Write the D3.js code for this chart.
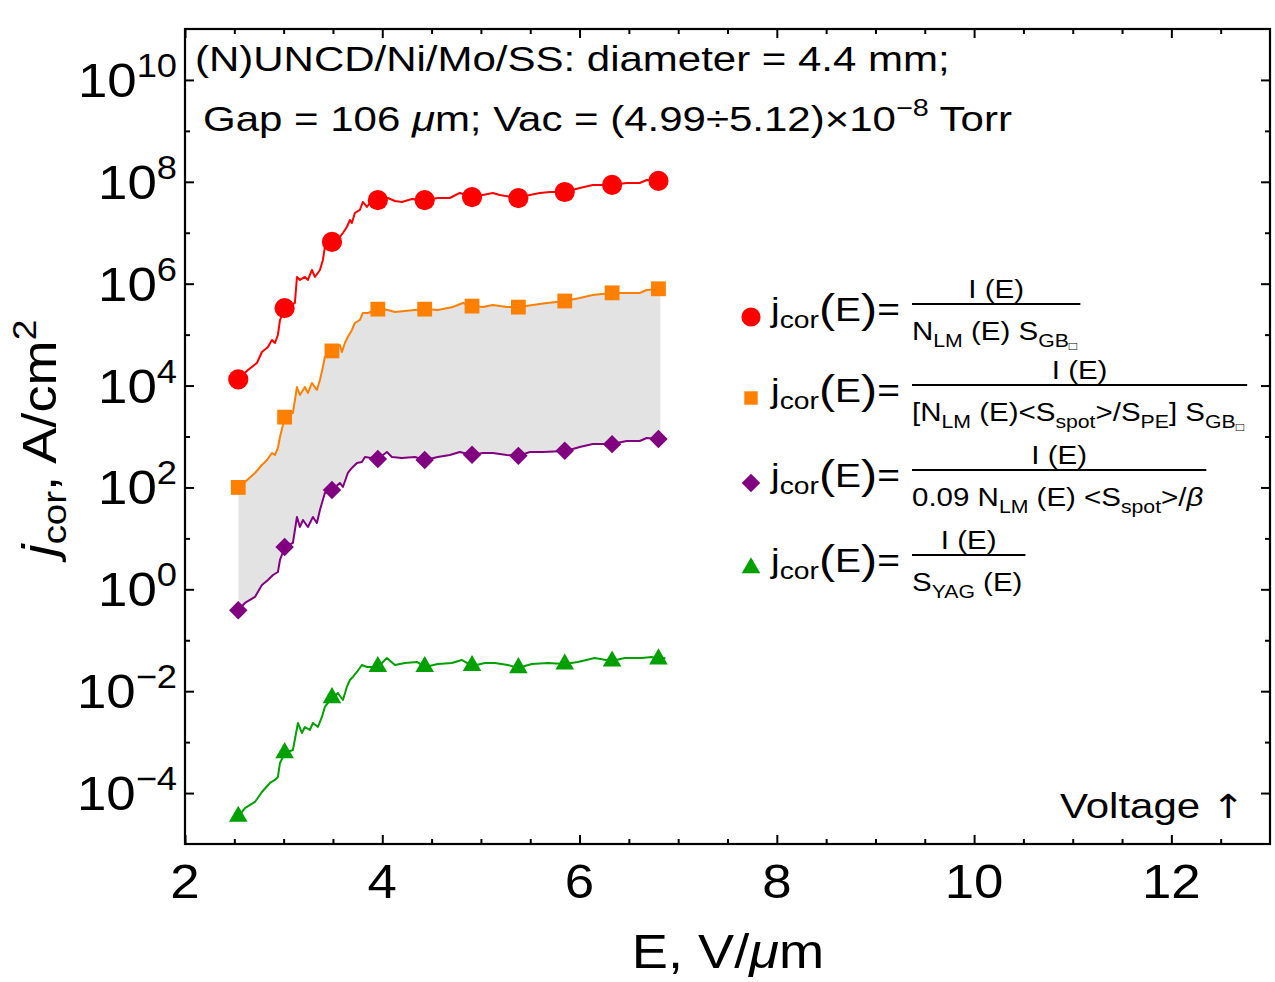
<!DOCTYPE html>
<html><head><meta charset="utf-8">
<script src="https://cdn.jsdelivr.net/npm/d3@7"></script>
<style>
body{margin:0;background:#fff}
svg text{font-family:"Liberation Sans",Arial,Helvetica,sans-serif;fill:#000}
</style></head>
<body><svg id="chart" width="1275" height="982"></svg>
<script>
// ---------- DATA (E in V/um, log10 of j_cor in A/cm^2) ----------
const xTicksMajor = [2, 4, 6, 8, 10, 12];
const yTickExponents = [-4, -2, 0, 2, 4, 6, 8, 10];
const yMinorExponents = [-3, -1, 1, 3, 5, 7, 9];

const redCurve = [[2.540,4.123],[2.638,4.306],[2.729,4.443],[2.780,4.659],[2.841,4.757],[2.881,4.895],[2.912,4.836],[2.942,4.993],[2.963,5.287],[3.013,5.523],[3.114,5.621],[3.135,6.132],[3.165,6.073],[3.216,6.132],[3.246,6.073],[3.287,6.269],[3.317,6.132],[3.368,6.269],[3.398,6.465],[3.418,6.720],[3.489,6.819],[3.570,6.917],[3.601,6.995],[3.641,7.113],[3.672,7.250],[3.692,7.191],[3.722,7.388],[3.773,7.447],[3.803,7.604],[3.844,7.506],[3.895,7.643],[3.955,7.643],[4.057,7.682],[4.128,7.623],[4.199,7.604],[4.300,7.663],[4.432,7.643],[4.563,7.682],[4.685,7.682],[4.786,7.781],[4.908,7.702],[5.019,7.741],[5.121,7.781],[5.192,7.741],[5.374,7.682],[5.495,7.741],[5.597,7.781],[5.698,7.800],[5.850,7.800],[6.002,7.879],[6.134,7.938],[6.326,7.938],[6.478,7.977],[6.610,7.977],[6.681,8.036],[6.802,8.016],[6.870,8.020]];
const orangeCurve = [[2.540,2.003],[2.608,2.107],[2.709,2.284],[2.780,2.441],[2.831,2.539],[2.881,2.676],[2.912,2.637],[2.942,2.775],[2.963,2.991],[3.013,3.383],[3.094,3.462],[3.135,3.972],[3.165,3.815],[3.216,3.972],[3.246,3.854],[3.287,4.051],[3.337,3.913],[3.368,4.110],[3.398,4.365],[3.418,4.561],[3.489,4.679],[3.570,4.797],[3.591,4.659],[3.621,4.836],[3.651,4.954],[3.692,5.091],[3.722,5.228],[3.773,5.287],[3.803,5.425],[3.854,5.425],[3.966,5.503],[4.057,5.484],[4.128,5.444],[4.229,5.464],[4.330,5.484],[4.432,5.503],[4.563,5.484],[4.715,5.543],[4.817,5.621],[4.908,5.562],[5.019,5.543],[5.121,5.582],[5.262,5.543],[5.384,5.543],[5.526,5.582],[5.668,5.621],[5.769,5.641],[5.850,5.660],[6.002,5.719],[6.134,5.778],[6.326,5.817],[6.478,5.817],[6.610,5.817],[6.681,5.876],[6.802,5.896],[6.870,5.900]];
const purpleCurve = [[2.540,-0.406],[2.608,-0.268],[2.709,-0.150],[2.780,0.085],[2.841,0.183],[2.892,0.281],[2.942,0.340],[2.963,0.576],[3.013,0.831],[3.094,0.910],[3.135,1.420],[3.165,1.224],[3.196,1.361],[3.246,1.224],[3.297,1.420],[3.337,1.302],[3.368,1.558],[3.418,1.891],[3.489,1.950],[3.570,2.088],[3.601,2.009],[3.651,2.284],[3.692,2.382],[3.743,2.480],[3.793,2.500],[3.824,2.598],[3.955,2.559],[4.047,2.696],[4.097,2.598],[4.199,2.578],[4.330,2.598],[4.432,2.539],[4.563,2.598],[4.685,2.637],[4.786,2.696],[4.908,2.637],[5.019,2.676],[5.121,2.676],[5.262,2.637],[5.384,2.618],[5.495,2.696],[5.627,2.696],[5.860,2.716],[6.002,2.794],[6.134,2.853],[6.326,2.853],[6.478,2.912],[6.610,2.912],[6.681,2.971],[6.802,2.951],[6.870,2.960]];
const greenCurve = [[2.540,-4.463],[2.608,-4.295],[2.709,-4.175],[2.780,-3.979],[2.861,-3.802],[2.912,-3.743],[2.942,-3.684],[2.963,-3.409],[3.013,-3.213],[3.094,-3.154],[3.145,-2.624],[3.185,-2.820],[3.216,-2.703],[3.266,-2.762],[3.297,-2.624],[3.348,-2.703],[3.388,-2.506],[3.418,-2.310],[3.489,-2.133],[3.550,-2.035],[3.601,-2.173],[3.641,-1.917],[3.672,-1.780],[3.702,-1.721],[3.743,-1.623],[3.793,-1.485],[3.844,-1.525],[3.955,-1.525],[4.047,-1.348],[4.128,-1.485],[4.229,-1.446],[4.351,-1.426],[4.432,-1.525],[4.563,-1.466],[4.705,-1.446],[4.806,-1.387],[4.908,-1.505],[5.040,-1.446],[5.141,-1.446],[5.273,-1.485],[5.374,-1.544],[5.516,-1.466],[5.678,-1.446],[5.850,-1.466],[5.982,-1.426],[6.154,-1.348],[6.326,-1.407],[6.458,-1.348],[6.630,-1.348],[6.731,-1.328],[6.792,-1.368],[6.870,-1.350]];

const markerE = [2.54, 3.01, 3.49, 3.955, 4.43, 4.91, 5.38, 5.85, 6.33, 6.80];
const redMarkers    = [4.12, 5.52, 6.82, 7.64, 7.64, 7.70, 7.68, 7.80, 7.94, 8.02];
const orangeMarkers = [2.00, 3.38, 4.68, 5.50, 5.50, 5.56, 5.54, 5.66, 5.82, 5.90];
const purpleMarkers = [-0.41, 0.83, 1.95, 2.56, 2.54, 2.64, 2.62, 2.72, 2.85, 2.95];
const greenMarkers  = [-4.46, -3.21, -2.13, -1.52, -1.52, -1.50, -1.54, -1.47, -1.41, -1.37];

const shadeEnd = 6.82;

// ---------- SETUP ----------
const svg = d3.select("#chart");
const L = 185, R = 1270, T = 29, B = 844;
const x = d3.scaleLinear().domain([2, 13]).range([L, R]);
const y = d3.scaleLog().domain([1e-5, 1e11]).range([B, T]);
const P = d => [x(d[0]), y(Math.pow(10, d[1]))];

const C = {red: "#ff0000", orange: "#ff8000", purple: "#800080", green: "#00a000"};

// text helper: horizontally stretched text (reference glyphs are wider)
function txt(tx, ty, sx, anchor, size, rot) {
  const g = svg.append("g").attr("transform", `translate(${tx},${ty})${rot ? ` rotate(${rot})` : ""} scale(${sx},1)`);
  return g.append("text").attr("x", 0).attr("y", 0).attr("text-anchor", anchor || "start").attr("font-size", size);
}

// shaded band between orange and purple
svg.append("clipPath").attr("id", "shadeClip").append("rect")
  .attr("x", x(2.54)).attr("y", T).attr("width", x(shadeEnd) - x(2.54)).attr("height", B - T);
const band = orangeCurve.concat(purpleCurve.slice().reverse());
svg.append("path").attr("d", d3.line().x(d => P(d)[0]).y(d => P(d)[1])(band) + "Z")
  .attr("fill", "#e3e3e3").attr("stroke", "none").attr("clip-path", "url(#shadeClip)");

// axes ticks (inward)
const minorX = d3.range(2.5, 13, 0.5).filter(v => v % 2 !== 0);
function xAx(gen, ty) {
  svg.append("g").attr("transform", `translate(0,${ty})`)
    .call(gen(x).tickValues(xTicksMajor).tickSize(-9).tickFormat(""))
    .call(g => g.select(".domain").remove());
  svg.append("g").attr("transform", `translate(0,${ty})`)
    .call(gen(x).tickValues(minorX).tickSize(-5).tickFormat(""))
    .call(g => g.select(".domain").remove());
}
xAx(d3.axisBottom, B);
xAx(d3.axisTop, T);
function yAx(gen, tx) {
  svg.append("g").attr("transform", `translate(${tx},0)`)
    .call(gen(y).tickValues(yTickExponents.map(e => Math.pow(10, e))).tickSize(-9).tickFormat(""))
    .call(g => g.select(".domain").remove());
  svg.append("g").attr("transform", `translate(${tx},0)`)
    .call(gen(y).tickValues(yMinorExponents.map(e => Math.pow(10, e))).tickSize(-5).tickFormat(""))
    .call(g => g.select(".domain").remove());
}
yAx(d3.axisLeft, L);
yAx(d3.axisRight, R);
svg.selectAll(".tick line").attr("stroke", "#000").attr("stroke-width", 2);

// frame
svg.append("rect").attr("x", L).attr("y", T).attr("width", R - L).attr("height", B - T)
  .attr("fill", "none").attr("stroke", "#000").attr("stroke-width", 2.2);

// tick labels
xTicksMajor.forEach(v => txt(x(v), 898, 1.1, "middle", 48).text(v));
yTickExponents.forEach(e => {
  const t = txt(177, y(Math.pow(10, e)) + 17, 1.1, "end", 48);
  t.append("tspan").text("10");
  t.append("tspan").attr("font-size", 33).attr("dy", -20).text(String(e).replace("-", "\u2212"));
});

// axis titles
const xt = txt(728, 968, 1.13, "middle", 48);
xt.append("tspan").text("E, V/");
xt.append("tspan").attr("font-style", "italic").text("\u03bc");
xt.append("tspan").text("m");

const yt = txt(56, 438, 1.13, "middle", 48, -90);
yt.append("tspan").attr("font-style", "italic").text("j");
yt.append("tspan").attr("font-size", 34).attr("dy", 10).text("cor");
yt.append("tspan").attr("dy", -10).text(", A/cm");
yt.append("tspan").attr("font-size", 33).attr("dy", -20).text("2");

// curves
const line = d3.line().x(d => P(d)[0]).y(d => P(d)[1]);
const series = [
  {pts: redCurve, mk: redMarkers, c: C.red, sym: d3.symbolCircle, size: 320, rot: 0},
  {pts: orangeCurve, mk: orangeMarkers, c: C.orange, sym: d3.symbolSquare, size: 220, rot: 0},
  {pts: purpleCurve, mk: purpleMarkers, c: C.purple, sym: d3.symbolSquare, size: 170, rot: 45},
  {pts: greenCurve, mk: greenMarkers, c: C.green, sym: d3.symbolTriangle, size: 150, rot: 0}
];
series.forEach(s => {
  svg.append("path").attr("d", line(s.pts)).attr("fill", "none")
    .attr("stroke", s.c).attr("stroke-width", 2).attr("stroke-linejoin", "round");
});
series.forEach(s => {
  svg.selectAll(null).data(d3.zip(markerE, s.mk)).enter().append("path")
    .attr("d", d3.symbol().type(s.sym).size(s.size))
    .attr("transform", d => `translate(${P(d)[0]},${P(d)[1]}) rotate(${s.rot})`)
    .attr("fill", s.c);
});

// annotation
txt(195, 71, 1.2, "start", 35).text("(N)UNCD/Ni/Mo/SS: diameter = 4.4 mm;");
const a2 = txt(203, 131, 1.2, "start", 35);
a2.append("tspan").text("Gap = 106 ");
a2.append("tspan").attr("font-style", "italic").text("\u03bc");
a2.append("tspan").text("m; Vac = (4.99\u00f75.12)\u00d710");
a2.append("tspan").attr("font-size", 24).attr("dy", -15).text("\u22128");
a2.append("tspan").attr("dy", 15).text(" Torr");
const vt = txt(1245, 818, 1.2, "end", 35);
vt.append("tspan").text("Voltage ");
vt.append("tspan").attr("font-family", "DejaVu Sans").attr("font-size", 33).text("\u2191");

// legend
const LSX = 1.18;
const legRows = [
  {c: C.red, sym: d3.symbolCircle, size: 290, rot: 0, base: 321,
   num: "I (E)",
   den: [["N",0],["LM",1],[" (E) S",0],["GB",1],["\u25a1",2]]},
  {c: C.orange, sym: d3.symbolSquare, size: 180, rot: 0, base: 402,
   num: "I (E)",
   den: [["[N",0],["LM",1],[" (E)<S",0],["spot",1],[">/S",0],["PE",1],["] S",0],["GB",1],["\u25a1",2]]},
  {c: C.purple, sym: d3.symbolSquare, size: 170, rot: 45, base: 487,
   num: "I (E)",
   den: [["0.09  N",0],["LM",1],[" (E) <S",0],["spot",1],[">/",0],["\u03b2",3]]},
  {c: C.green, sym: d3.symbolTriangle, size: 150, rot: 0, base: 572,
   num: "I (E)",
   den: [["S",0],["YAG",1],[" (E)",0]]}
];
legRows.forEach(r => {
  svg.append("path").attr("d", d3.symbol().type(r.sym).size(r.size)())
    .attr("transform", `translate(751,${r.base - 4}) rotate(${r.rot})`).attr("fill", r.c);
  const t = txt(771, r.base, LSX, "start", 33);
  t.append("tspan").text("j");
  t.append("tspan").attr("font-size", 24).attr("dy", 7).text("cor");
  t.append("tspan").attr("font-size", 41).attr("dy", -5).text("(");
  t.append("tspan").attr("font-size", 33).attr("dy", -2).text("E");
  t.append("tspan").attr("font-size", 41).attr("dy", 2).text(")");
  t.append("tspan").attr("font-size", 33).attr("dy", -2).text("=");
  const d = txt(912, r.base + 19, LSX, "start", 25);
  let lvl = 0;
  r.den.forEach(([s, k]) => {
    const ts = d.append("tspan").text(s);
    const target = k === 1 ? 7 : k === 2 ? 10 : 0;
    ts.attr("dy", target - lvl);
    lvl = target;
    if (k === 1) ts.attr("font-size", 18);
    if (k === 2) ts.attr("font-size", 12);
    if (k === 3) ts.attr("font-style", "italic");
  });
  const w = d.node().getComputedTextLength() * LSX;
  const ly = r.base - 17;
  svg.append("line").attr("x1", 912).attr("x2", 912 + w + 3).attr("y1", ly).attr("y2", ly)
    .attr("stroke", "#000").attr("stroke-width", 2);
  txt(912 + (w + 3) / 2, ly - 6, LSX, "middle", 25).text(r.num);
});
</script></body></html>
